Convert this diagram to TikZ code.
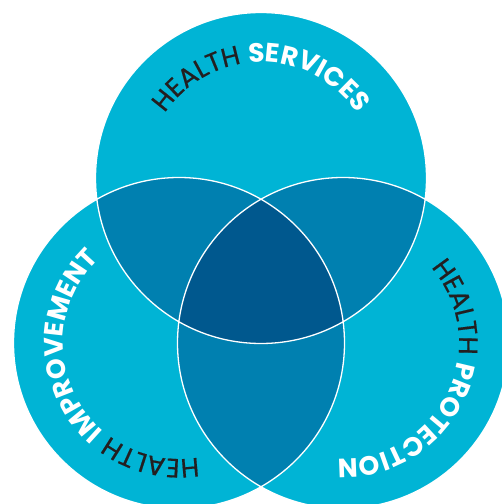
\documentclass[tikz,border=0pt]{standalone}
\usepackage{fontspec}
\setmainfont{Poppins}
\newfontfamily\pmed{Poppins}[FakeBold=0.6]
\usetikzlibrary{decorations.text}
\definecolor{cyanA}{HTML}{00B4D5}
\definecolor{midB}{HTML}{0080B0}
\definecolor{darkC}{HTML}{00588E}
\definecolor{inkD}{HTML}{231F20}
\newcommand\hreg{\pmed\fontsize{26.5}{26.5}\selectfont\color{inkD}}
\newcommand\hbold{\normalfont\fontsize{26.5}{26.5}\selectfont\bfseries\color{white}}
\tikzset{
  ringtext/.style={decorate, decoration={text along path, text align=center, text={#1}}},
  outline/.style={draw=white, line width=1.3pt}
}
\begin{document}
\begin{tikzpicture}[x=1pt,y=1pt]
\useasboundingbox (0,0) rectangle (502,504);
\clip (0,0) rectangle (502,504);
\coordinate (T) at (261,326);
\coordinate (L) at (179,161);
\coordinate (R) at (343,161);
\def\rad{165.5}
\fill[cyanA] (T) circle (\rad) (L) circle (\rad) (R) circle (\rad);
\begin{scope}
  \clip (T) circle (\rad);
  \fill[midB] (L) circle (\rad) (R) circle (\rad);
\end{scope}
\begin{scope}
  \clip (L) circle (\rad);
  \fill[midB] (R) circle (\rad);
\end{scope}
\begin{scope}
  \clip (T) circle (\rad);
  \clip (L) circle (\rad);
  \fill[darkC] (R) circle (\rad);
\end{scope}
\path[outline] (T) circle (\rad) (L) circle (\rad) (R) circle (\rad);
\path[ringtext={|\hreg|HEALTH |\hbold|SERVICES}] (T) ++(175:116) arc[start angle=175, end angle=5, radius=116];
\path[ringtext={|\hreg|HEALTH |\hbold|IMPROVEMENT}] (L) ++(296.5:116) arc[start angle=296.5, end angle=116.5, radius=116];
\path[ringtext={|\hreg|HEALTH |\hbold|PROTECTION}] (R) ++(64:116) arc[start angle=64, end angle=-116, radius=116];
\end{tikzpicture}
\end{document}
